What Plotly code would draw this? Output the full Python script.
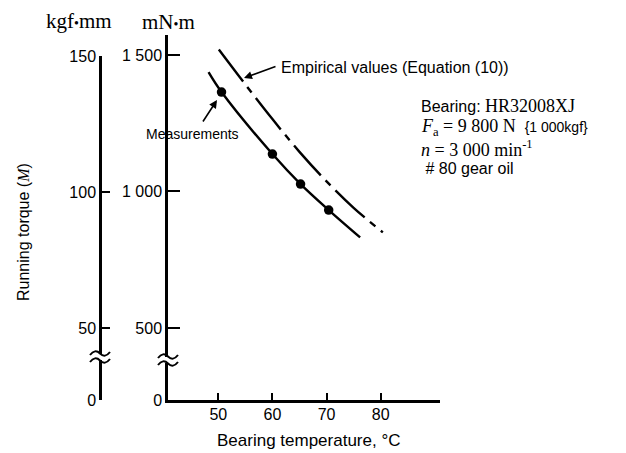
import plotly.graph_objects as go

W, H = 626, 453

# ---- data ----
meas_temp = [50.6, 60.0, 65.2, 70.4]          # °C
meas_torque = [1364, 1137, 1027, 932]          # mN·m

meas_curve_temp = [48.2, 50.6, 60.0, 65.2, 70.4, 76.2]
meas_curve_torque = [1437, 1364, 1137, 1027, 932, 832]

emp_temp = [50.1, 55.0, 60.0, 65.0, 70.0, 75.0, 80.4]
emp_torque = [1520, 1392, 1265, 1145, 1037, 940, 850]

x_ticks = [50, 60, 70, 80]
y_ticks_mNm = [500, 1000, 1500]
y_ticklabels_mNm = ["500", "1 000", "1 500"]
y_ticks_kgf = [50, 100, 150]
y_ticklabels_kgf = ["50", "100", "150"]

SANS = "Liberation Sans, Arial, sans-serif"
SERIF = "Liberation Serif, Times New Roman, serif"

OFF = 8  # page body margin of the browser


def px(x):
    return (x - OFF) / W


def py(y):
    return 1 - (y - OFF) / H


# axis geometry (window pixels)
X0, X1 = 168, 440
YB, YT = 400, 35
x_range = [40.71, 90.96]
y_range = [236.3, 1573]
y0_fake = y_range[0]
k_range = [23.63, 150]
k_top = 56

fig = go.Figure()

fig.add_trace(go.Scatter(x=meas_curve_temp, y=meas_curve_torque, mode="lines",
                         line=dict(color="black", width=2.4, shape="spline"),
                         hoverinfo="skip", showlegend=False))
fig.add_trace(go.Scatter(x=emp_temp, y=emp_torque, mode="lines",
                         line=dict(color="black", width=2.4, shape="spline",
                                   dash="40px,7px,7px,7px"),
                         hoverinfo="skip", showlegend=False))
fig.add_trace(go.Scatter(x=meas_temp, y=meas_torque, mode="markers",
                         marker=dict(color="black", size=9.5),
                         showlegend=False))
# dummy trace so the kgf·mm axis is drawn
fig.add_trace(go.Scatter(x=[None], y=[None], yaxis="y2", showlegend=False,
                         hoverinfo="skip"))

fig.update_layout(
    template="none",
    width=W, height=H,
    margin=dict(l=0, r=0, t=0, b=0, autoexpand=False),
    paper_bgcolor="white", plot_bgcolor="rgba(0,0,0,0)",
    font=dict(family=SANS, size=16, color="black"),
    xaxis=dict(domain=[px(X0), px(X1)], range=x_range, tickvals=x_ticks,
               ticks="inside", ticklen=7, tickwidth=2, tickcolor="black",
               showline=True, linewidth=2.5, linecolor="black",
               showgrid=False, zeroline=False, anchor="y", automargin=False,
               ticklabelstandoff=-2, tickfont=dict(size=16)),
    yaxis=dict(domain=[py(YB), py(YT)], range=y_range,
               tickvals=[y0_fake] + y_ticks_mNm,
               ticktext=["0"] + y_ticklabels_mNm,
               ticks="inside", ticklen=12, tickwidth=2, tickcolor="black",
               showline=True, linewidth=2.5, linecolor="black",
               showgrid=False, zeroline=False, anchor="x", automargin=False,
               ticklabelstandoff=0, tickfont=dict(size=16)),
    yaxis2=dict(domain=[py(YB), py(k_top)], range=k_range,
                tickvals=[k_range[0]] + y_ticks_kgf,
                ticktext=["0"] + y_ticklabels_kgf,
                ticks="inside", ticklen=8, tickwidth=2, tickcolor="black",
                showline=True, linewidth=2.5, linecolor="black",
                showgrid=False, zeroline=False, anchor="free",
                position=px(100), side="left", automargin=False,
                ticklabelstandoff=0, tickfont=dict(size=16)),
)


def label(x, y, text, size, family=SANS, xanchor="center", angle=0):
    return dict(x=px(x), y=py(y), xref="paper", yref="paper", text=text,
                xanchor=xanchor, yanchor="middle", textangle=angle,
                showarrow=False, font=dict(family=family, size=size))


def arrow(x_tail, y_tail, x_head, y_head):
    return dict(x=px(x_head), y=py(y_head), xref="paper", yref="paper",
                ax=x_tail - x_head, ay=y_tail - y_head, text="", showarrow=True,
                arrowhead=2, arrowsize=1, arrowwidth=1.6, arrowcolor="black",
                standoff=0, startstandoff=0)


ann = []
# unit labels
ann.append(label(79, 21, "kgf<span style='font-size:14px'>•</span>mm", 21, SERIF))
ann.append(label(168, 22, "mN<span style='font-size:14px'>•</span>m", 21, SERIF))
# axis titles
ann.append(label(309, 440, "Bearing temperature, °C", 17))
ann.append(label(23, 232,
                 "Running torque (<span style='font-family:Liberation Serif'><i>M</i></span>)",
                 16, angle=-90))
# curve labels
ann.append(label(279, 67, "Empirical values (Equation (10))", 16, xanchor="left"))
ann.append(arrow(277, 66, 244, 78))
ann.append(label(241, 134, "Measurements", 14, xanchor="right"))
ann.append(arrow(202, 123, 217, 100))
# condition block
sv = "font-family:Liberation Serif;font-size:18px"
lines = [
    ("Bearing: <span style='%s'>HR32008XJ</span>" % sv, 106),
    ("<span style='%s'><i>F</i><sub>a</sub> = 9 800 N</span>&nbsp; <span style='font-size:14px'>{1 000kgf}</span>" % sv, 127),
    ("<span style='%s'><i>n</i> = 3 000 min<sup>-1</sup></span>" % sv, 148),
    ("&nbsp;#&nbsp;80 gear oil", 168),
]
for t, yy in lines:
    ann.append(label(419, yy, t, 16, xanchor="left"))
fig.update_layout(annotations=ann)

# axis break marks
shapes = []
for xc, yc in [(100, 357), (168, 360)]:
    shapes.append(dict(type="rect", xref="paper", yref="paper",
                       x0=px(xc - 4), x1=px(xc + 4), y0=py(yc + 3), y1=py(yc - 3),
                       fillcolor="white", line=dict(width=0)))
    for dy in (-3.5, 3.5):
        y = yc + dy
        path = "M %f,%f Q %f,%f %f,%f T %f,%f" % (
            px(xc - 10), py(y + 1.5), px(xc - 5), py(y - 5), px(xc), py(y),
            px(xc + 10), py(y - 1.5))
        shapes.append(dict(type="path", xref="paper", yref="paper", path=path,
                           line=dict(color="black", width=2)))
fig.update_layout(shapes=shapes)

fig.write_html("out.html")
